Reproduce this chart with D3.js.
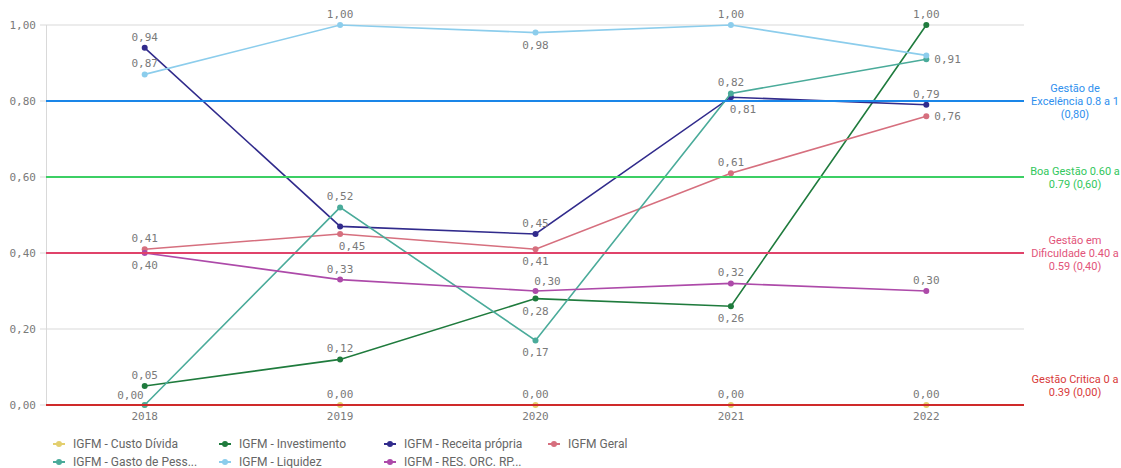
<!DOCTYPE html>
<html><head><meta charset="utf-8">
<script src="https://cdn.jsdelivr.net/npm/d3@7/dist/d3.min.js"></script>
<style>
body{margin:0;background:#fff;}
</style></head>
<body><svg id="c" width="1121" height="468"></svg>
<script>
const years = ["2018","2019","2020","2021","2022"];
const seriesNames = ["IGFM - Custo Dívida","IGFM - Investimento","IGFM - Receita própria","IGFM Geral","IGFM - Gasto de Pessoal","IGFM - Liquidez","IGFM - RES. ORC. RP"];
const legendNames = ["IGFM - Custo Dívida","IGFM - Investimento","IGFM - Receita própria","IGFM Geral","IGFM - Gasto de Pess...","IGFM - Liquidez","IGFM - RES. ORC. RP..."];
const seriesColors = ["#e3cf6e","#1f7b3d","#312b8c","#d66f7e","#4aab9a","#8ccdec","#ad4aa9"];
const custoDivida = [0.00,0.00,0.00,0.00,0.00];
const investimento = [0.05,0.12,0.28,0.26,1.00];
const receitaPropria = [0.94,0.47,0.45,0.81,0.79];
const geral = [0.41,0.45,0.41,0.61,0.76];
const gastoPessoal = [0.00,0.52,0.17,0.82,0.91];
const liquidez = [0.87,1.00,0.98,1.00,0.92];
const resOrc = [0.40,0.33,0.30,0.32,0.30];
const seriesValues = [custoDivida,investimento,receitaPropria,geral,gastoPessoal,liquidez,resOrc];
// label placement: a=above, b=below, r=right, l=left, ar=above-right, br=below-right, n=none
const labelPlacement = [
  ["l","a","a","a","a"],
  ["a","a","b","b","a"],
  ["a","n","a","br","a"],
  ["a","br","b","a","r"],
  ["n","a","b","a","r"],
  ["a","a","b","a","n"],
  ["b","a","ar","a","a"]
];
const yTicks = [0,0.2,0.4,0.6,0.8,1.0];
const refValues = [0.8,0.6,0.4,0.0];
const refColors = ["#1a86e8","#3ccf64","#e0436a","#cf2a2a"];
const refLabelColors = ["#2f90ee","#32c75c","#e2547a","#d83a3a"];
const refLabels = [["Gestão de","Excelência 0.8 a 1","(0,80)"],["Boa Gestão 0.60 a","0.79 (0,60)"],["Gestão em","Dificuldade 0.40 a","0.59 (0,40)"],["Gestão Critica 0 a","0.39 (0,00)"]];

const MONO = "DejaVu Sans Mono, monospace";
const NARROW = "Liberation Sans Narrow, Roboto, DejaVu Sans Condensed, sans-serif";
const svg = d3.select("#c");
const fmt = v => d3.format(".2f")(v).replace(".",",");
const x = d3.scaleBand().domain(years).range([47,1024]);
const y = d3.scaleLinear().domain([0,1]).range([405,25]);
const cx = d => x(d)+x.bandwidth()/2;

// gridlines
svg.append("g").selectAll("line").data(yTicks).join("line")
  .attr("x1",40).attr("x2",1024).attr("y1",d=>y(d)).attr("y2",d=>y(d))
  .attr("stroke","#d9d9d9").attr("stroke-width",1);
svg.append("line").attr("x1",46.5).attr("x2",46.5).attr("y1",y(1)).attr("y2",y(0)).attr("stroke","#d9d9d9");

// y axis labels
const yAxis = d3.axisLeft(y).tickValues(yTicks).tickFormat(fmt).tickSize(0).tickPadding(0);
const ga = svg.append("g").attr("transform","translate(36,0)").call(yAxis);
ga.select(".domain").remove();
ga.selectAll("text").attr("font-size",11).attr("fill","#7a7a7a").style("font-family",MONO);

// x axis labels
const xAxis = d3.axisBottom(x).tickSize(0).tickPadding(0);
const gx = svg.append("g").attr("transform","translate(0,412)").call(xAxis);
gx.select(".domain").remove();
gx.selectAll("text").attr("font-size",11).attr("fill","#7a7a7a").style("font-family",MONO);

// series lines & points
const line = d3.line().x((d,i)=>cx(years[i])).y(d=>y(d));
seriesValues.forEach((vals,si)=>{
  svg.append("path").datum(vals).attr("d",line).attr("fill","none")
    .attr("stroke",seriesColors[si]).attr("stroke-width",1.6);
  svg.append("g").selectAll("circle").data(vals).join("circle")
    .attr("cx",(d,i)=>cx(years[i])).attr("cy",d=>y(d)).attr("r",3).attr("fill",seriesColors[si]);
});

// reference lines
svg.append("g").selectAll("line").data(refValues).join("line")
  .attr("x1",46).attr("x2",1024).attr("y1",d=>y(d)).attr("y2",d=>y(d))
  .attr("stroke",(d,i)=>refColors[i]).attr("stroke-width",2);
refValues.forEach((v,i)=>{
  const lines = refLabels[i];
  const lh = 13;
  const y0 = v===0 ? y(v) - lines.length*lh + 4 : y(v) - (lines.length-1)*lh/2 + 4;
  const t = svg.append("text").attr("text-anchor","middle").attr("font-size",11)
    .style("font-family",NARROW).attr("fill",refLabelColors[i]);
  lines.forEach((s,j)=>{
    t.append("tspan").attr("x",1075).attr("y",y0+j*lh).text(s);
  });
});

// labels
seriesValues.forEach((vals,si)=>{
  vals.forEach((v,i)=>{
    const p = labelPlacement[si][i];
    if(p==="n") return;
    let dx=0, dy=0, anchor="middle";
    const px = cx(years[i]), py = y(v);
    if(p==="a"){dy=-7;}
    else if(p==="b"){dy=16;}
    else if(p==="r"){dx=8;dy=4;anchor="start";}
    else if(p==="l"){dx=-1;dy=-6;anchor="end";}
    else if(p==="ar"){dx=12;dy=-6;}
    else if(p==="br"){dx=12;dy=16;}
    svg.append("text").attr("x",px+dx).attr("y",py+dy).attr("text-anchor",anchor)
      .attr("font-size",11).attr("fill","#7a7a7a").style("font-family",MONO).text(fmt(v));
  });
});

// legend
const legX = [59,225,390,554];
const legY = [444,462];
legendNames.forEach((n,i)=>{
  const col = i%4, row = Math.floor(i/4);
  const g = svg.append("g").attr("transform",`translate(${legX[col]},${legY[row]})`);
  g.append("line").attr("x1",-6).attr("x2",6).attr("y1",0).attr("y2",0).attr("stroke",seriesColors[i]).attr("stroke-width",2);
  g.append("circle").attr("r",3).attr("fill",seriesColors[i]);
  g.append("text").attr("x",14).attr("y",4).attr("font-size",12).attr("fill","#666")
    .style("font-family",NARROW).text(n);
});
</script></body></html>
